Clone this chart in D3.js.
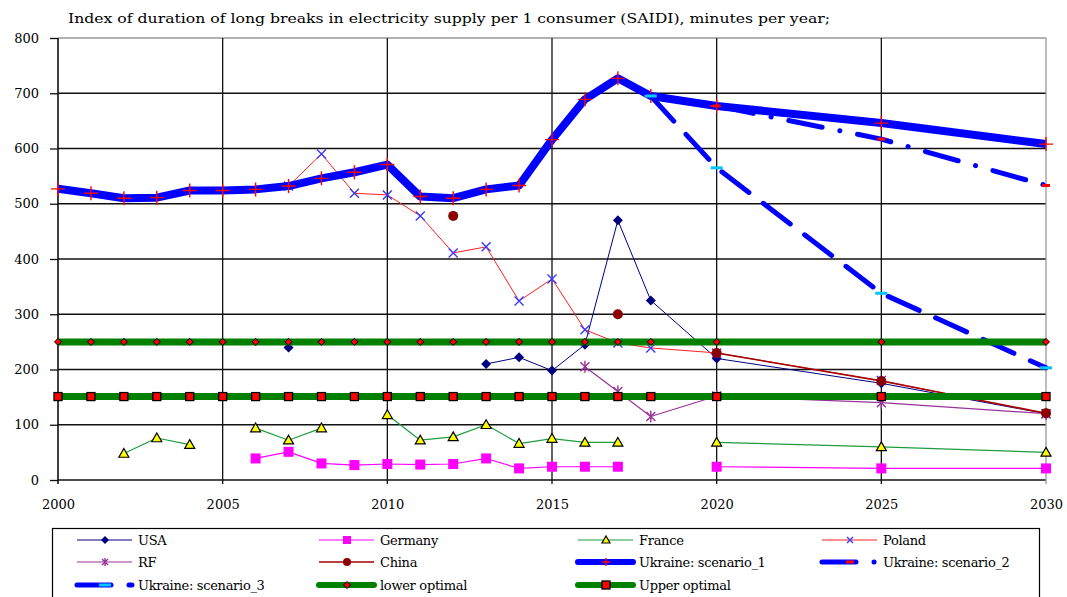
<!DOCTYPE html>
<html>
<head>
<meta charset="utf-8">
<script src="https://cdn.jsdelivr.net/npm/d3@7"></script>
<style>
  body { margin: 0; background: #fff; }
  svg text { font-family: "DejaVu Serif", serif; fill: #000; }
</style>
</head>
<body>
<svg id="chart" width="1067" height="597"></svg>
<script>
// values, one entry per year below (null = no data)
const years = [2000, 2001, 2002, 2003, 2004, 2005, 2006, 2007, 2008, 2009, 2010,
               2011, 2012, 2013, 2014, 2015, 2016, 2017, 2018, 2020, 2025, 2030];

const usa     = [null, null, null, null, null, null, null, 240, null, null, null,
                 null, null, 210, 222, 198, 245, 470, 325, 220, 175, 120];
const germany = [null, null, null, null, null, null, 39, 51, 30, 27, 29,
                 28, 29, 39, 21, 24, 24, 24, null, 24, 21, 21];
const france  = [null, null, 48, 76, 64, null, 94, 72, 94, null, 118,
                 72, 78, 100, 66, 75, 68, 68, null, 68, 60, 50];
const poland  = [null, null, null, null, null, null, null, 532, 590, 519, 516,
                 478, 411, 422, 324, 364, 272, 248, 239, 230, 180, 120];
const rf      = [null, null, null, null, null, null, null, null, null, null, null,
                 null, null, null, null, null, 205, 160, 115, 152, 140, 120];
const china   = [null, null, null, null, null, null, null, null, null, null, null,
                 null, 478, null, null, null, null, 300, null, 230, 179, 121];
const scen1   = [527, 519, 510, 511, 524, 524, 526, 532, 546, 557, 571,
                 513, 510, 526, 533, 616, 689, 727, 695, 677, 646, 608];
const scen2   = [null, null, null, null, null, null, null, null, null, null, null,
                 null, null, null, null, null, null, null, 695, 677, 617, 533];
const scen3   = [null, null, null, null, null, null, null, null, null, null, null,
                 null, null, null, null, null, null, null, 695, 565, 338, 203];
const lowerOpt = [250, 250, 250, 250, 250, 250, 250, 250, 250, 250, 250,
                  250, 250, 250, 250, 250, 250, 250, 250, 250, 250, 250];
const upperOpt = [151, 151, 151, 151, 151, 151, 151, 151, 151, 151, 151,
                  151, 151, 151, 151, 151, 151, 151, 151, 151, 151, 151];

const yTicks = [0, 100, 200, 300, 400, 500, 600, 700, 800];
const xTicks = [2000, 2005, 2010, 2015, 2020, 2025, 2030];
const title = "Index of duration of long breaks in electricity supply per 1 consumer (SAIDI), minutes per year;";

const series = [
  { name: "USA", values: usa, color: "#000080", width: 1, marker: "diamond", mFill: "#000080", mSize: 10 },
  { name: "Germany", values: germany, color: "#ff00ff", width: 1.2, marker: "square", mFill: "#ff00ff", mSize: 10 },
  { name: "France", values: france, color: "#1f9c3f", width: 1.2, marker: "triangle", mFill: "#ffff00", mStroke: "#000", mSize: 10 },
  { name: "Poland", values: poland, color: "#ff2020", width: 1, marker: "x", mStroke: "#3a3aff", mSize: 12 },
  { name: "RF", values: rf, color: "#993399", width: 1.2, marker: "star", mStroke: "#993399", mSize: 12 },
  { name: "China", values: china, color: "#a00000", width: 1.5, marker: "circle", mFill: "#8b0000", mSize: 10 },
  { name: "Ukraine: scenario_1", values: scen1, color: "#0000ff", width: 8, marker: "plus", mStroke: "#ff0000", mSize: 14 },
  { name: "Ukraine: scenario_2", values: scen2, color: "#0000ff", width: 5, dash: "34,18,0.1,18", marker: "dash", mFill: "#ff0000", mW: 8, mH: 3 },
  { name: "Ukraine: scenario_3", values: scen3, color: "#0000ff", width: 5, dash: "34,18", marker: "dash", mFill: "#00c8ff", mW: 12, mH: 3 },
  { name: "lower optimal", values: lowerOpt, color: "#008000", width: 7, marker: "diamond", mFill: "#ff0000", mStroke: "#000", mSize: 7 },
  { name: "Upper optimal", values: upperOpt, color: "#008000", width: 7, marker: "square", mFill: "#ff0000", mStroke: "#000", mSize: 8 }
];

const svg = d3.select("#chart");
const x = d3.scaleLinear().domain([2000, 2030]).range([58, 1046]);
const y = d3.scaleLinear().domain([0, 800]).range([480, 38]);

svg.append("text")
  .attr("x", 68).attr("y", 23)
  .attr("font-size", 13)
  .attr("textLength", 762)
  .attr("lengthAdjust", "spacingAndGlyphs")
  .text(title);

// grid
const grid = svg.append("g");
grid.selectAll(".hg").data(yTicks).join("line")
  .attr("x1", x(2000)).attr("x2", x(2030))
  .attr("y1", d => y(d)).attr("y2", d => y(d))
  .attr("stroke", d => d === 800 ? "#999" : "#111")
  .attr("stroke-width", 1.3);
grid.selectAll(".vg").data(xTicks).join("line")
  .attr("x1", d => x(d)).attr("x2", d => x(d))
  .attr("y1", y(800)).attr("y2", y(0) + 4)
  .attr("stroke", d => d === 2030 ? "#999" : "#111")
  .attr("stroke-width", d => d === 2000 ? 1.6 : 1.3);

// axes
const yAxis = svg.append("g")
  .attr("transform", `translate(${x(2000)},0)`)
  .call(d3.axisLeft(y).tickValues(yTicks).tickSize(8).tickPadding(11));
yAxis.select(".domain").remove();
yAxis.selectAll("line").attr("stroke", "#111").attr("stroke-width", 1.3);
yAxis.selectAll("text").attr("font-size", 13).attr("font-family", "DejaVu Serif");

const xAxis = svg.append("g")
  .attr("transform", `translate(0,${y(0)})`)
  .call(d3.axisBottom(x).tickValues(xTicks).tickFormat(d3.format("d")).tickSize(0).tickPadding(20));
xAxis.select(".domain").remove();
xAxis.selectAll("text").attr("font-size", 13).attr("font-family", "DejaVu Serif");

function drawMarker(g, s) {
  const r = s.mSize / 2;
  if (s.marker === "diamond") {
    g.append("path").attr("d", `M0,${-r}L${r},0L0,${r}L${-r},0Z`)
      .attr("fill", s.mFill).attr("stroke", s.mStroke || "none").attr("stroke-width", 1);
  } else if (s.marker === "triangle") {
    g.append("path").attr("d", `M0,${-r}L${r},${r * 0.75}L${-r},${r * 0.75}Z`)
      .attr("fill", s.mFill).attr("stroke", s.mStroke || "none").attr("stroke-width", 1.2);
  } else if (s.marker === "circle") {
    g.append("circle").attr("r", r).attr("fill", s.mFill);
  } else if (s.marker === "square") {
    g.append("rect").attr("x", -r).attr("y", -r)
      .attr("width", s.mSize).attr("height", s.mSize)
      .attr("fill", s.mFill).attr("stroke", s.mStroke || "none").attr("stroke-width", 1.3);
  } else if (s.marker === "dash") {
    g.append("rect").attr("x", -s.mW / 2).attr("y", -s.mH / 2)
      .attr("width", s.mW).attr("height", s.mH).attr("fill", s.mFill);
  } else {
    const q = r * 0.75;
    let d = "";
    if (s.marker === "plus") d = `M${-r},0H${r}M0,${-r}V${r}`;
    if (s.marker === "x") d = `M${-q},${-q}L${q},${q}M${-q},${q}L${q},${-q}`;
    if (s.marker === "star") d = `M${-q},${-q}L${q},${q}M${-q},${q}L${q},${-q}M0,${-r}V${r}`;
    g.append("path").attr("d", d).attr("fill", "none")
      .attr("stroke", s.mStroke).attr("stroke-width", 1.4);
  }
}

const line = d3.line()
  .defined(d => d.v != null)
  .x(d => x(d.year))
  .y(d => y(d.v));

series.forEach(s => {
  const pts = years.map((yr, i) => ({ year: yr, v: s.values[i] }));
  const g = svg.append("g");
  g.append("path").datum(pts)
    .attr("d", line)
    .attr("fill", "none")
    .attr("stroke", s.color)
    .attr("stroke-width", s.width)
    .attr("stroke-linecap", s.dash ? "round" : "butt")
    .attr("stroke-linejoin", "round")
    .attr("stroke-dasharray", s.dash || null);
  pts.filter(d => d.v != null).forEach(d => {
    const m = g.append("g").attr("transform", `translate(${x(d.year)},${y(d.v)})`);
    drawMarker(m, s);
  });
});

// legend
const legend = svg.append("g");
legend.append("rect")
  .attr("x", 52.5).attr("y", 528.5).attr("width", 987).attr("height", 80)
  .attr("fill", "#fff").attr("stroke", "#000").attr("stroke-width", 1.2);
const colX = [77, 319, 578, 822];
const rowY = [540, 562, 585];
series.forEach((s, i) => {
  const cx = colX[i % 4], cy = rowY[Math.floor(i / 4)];
  legend.append("line")
    .attr("x1", cx).attr("x2", cx + 55).attr("y1", cy).attr("y2", cy)
    .attr("stroke", s.color)
    .attr("stroke-width", Math.min(s.width, 6))
    .attr("stroke-linecap", s.width > 3 ? "round" : "butt")
    .attr("stroke-dasharray", s.dash || null);
  const m = legend.append("g").attr("transform", `translate(${cx + 28},${cy})`);
  drawMarker(m, Object.assign({}, s, { mSize: s.mSize ? Math.min(s.mSize, 8) : s.mSize }));
  legend.append("text")
    .attr("x", cx + 61).attr("y", cy).attr("dy", "0.35em")
    .attr("font-size", 13).attr("letter-spacing", -0.3)
    .text(s.name);
});
</script>
</body>
</html>
